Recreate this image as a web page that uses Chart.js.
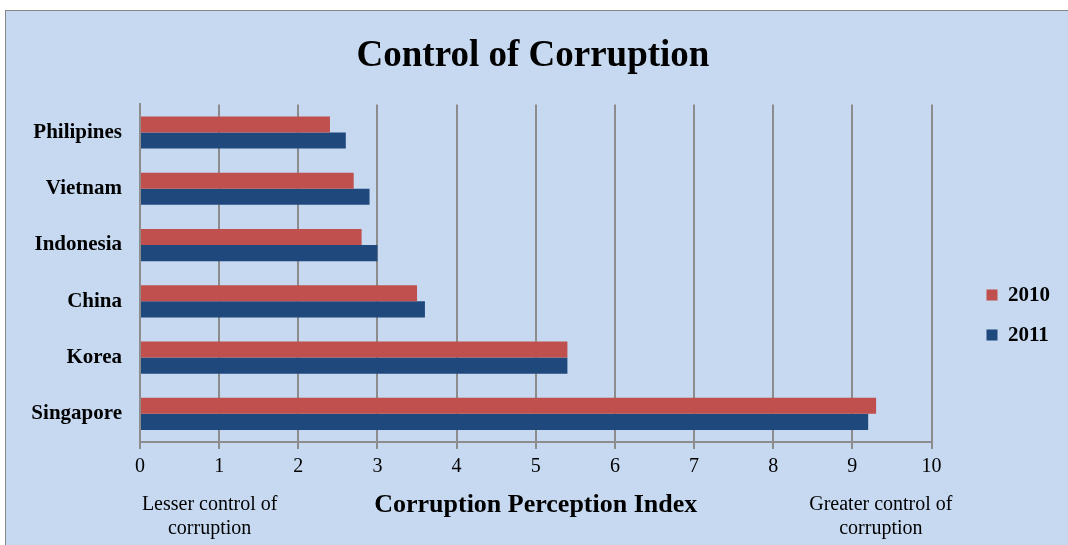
<!DOCTYPE html>
<html>
<head>
<meta charset="utf-8">
<script src="https://cdn.jsdelivr.net/npm/chart.js@4/dist/chart.umd.min.js"></script>
<style>
  body { margin: 0; background: #fff; }
  #frame {
    position: absolute; left: 5px; top: 10px;
    width: 1063px; height: 535px;
    border-left: 1px solid #868686; border-top: 1px solid #868686;
    background: #c6d9f1;
  }
  #frame canvas { display: block; }
</style>
</head>
<body>
<div id="frame"><canvas id="cpiChart" width="1062" height="534"></canvas></div>
<script>
// Control of Corruption - CPI scores
const countries = ["Philipines", "Vietnam", "Indonesia", "China", "Korea", "Singapore"];
const cpi2010 = [2.4, 2.7, 2.8, 3.5, 5.4, 9.3];
const cpi2011 = [2.6, 2.9, 3.0, 3.6, 5.4, 9.2];
const xMin = 0;
const xMax = 10;

const serif = "'Liberation Serif', 'Times New Roman', serif";
const gridGray = "#8c8c8c";

// notes under the axis ends
const axisNotes = {
  id: "axisNotes",
  afterDraw(chart) {
    const x = chart.scales.x;
    const ctx = chart.ctx;
    const y0 = chart.chartArea.bottom + 63;
    ctx.save();
    ctx.font = "20px " + serif;
    ctx.fillStyle = "#000";
    ctx.textAlign = "center";
    ctx.textBaseline = "middle";
    const lx = x.getPixelForValue(0.88);
    const rx = x.getPixelForValue(9.36);
    ctx.fillText("Lesser control of", lx, y0);
    ctx.fillText("corruption", lx, y0 + 24);
    ctx.fillText("Greater control of", rx, y0);
    ctx.fillText("corruption", rx, y0 + 24);
    ctx.restore();
  },
};

const ctx = document.getElementById("cpiChart").getContext("2d");
new Chart(ctx, {
  type: "bar",
  data: {
    labels: countries,
    datasets: [
      {
        label: "2010",
        data: cpi2010,
        backgroundColor: "#c0504d",
      },
      {
        label: "2011",
        data: cpi2011,
        backgroundColor: "#1f497d",
      },
    ],
  },
  options: {
    indexAxis: "y",
    responsive: false,
    animation: false,
    layout: { padding: { left: 0, right: 8, top: 0, bottom: 0 } },
    datasets: {
      bar: { barPercentage: 1, categoryPercentage: 0.571 },
    },
    scales: {
      x: {
        min: xMin,
        max: xMax,
        ticks: {
          stepSize: 1,
          padding: 6,
          color: "#000",
          font: { family: serif, size: 20 },
        },
        grid: { color: gridGray, lineWidth: 2, tickLength: 7 },
        border: { color: gridGray, width: 2 },
        title: {
          display: true,
          text: "Corruption Perception Index",
          color: "#000",
          font: { family: serif, size: 26, weight: "bold" },
          padding: { top: 8, bottom: 24 },
        },
        afterFit(scale) {
          scale.height = 103;
        },
      },
      y: {
        ticks: {
          padding: 18,
          color: "#000",
          font: { family: serif, size: 21, weight: "bold" },
        },
        grid: { display: false, drawTicks: false },
        border: { color: gridGray, width: 2 },
        afterFit(scale) {
          scale.width = 134;
        },
      },
      gap: {
        type: "category",
        axis: "y",
        position: "right",
        ticks: { display: false },
        grid: { display: false, drawTicks: false },
        border: { display: false },
        afterFit(scale) {
          scale.width = 36;
        },
      },
    },
    plugins: {
      title: {
        display: true,
        text: "Control of Corruption",
        color: "#000",
        font: { family: serif, size: 37, weight: "bold" },
        padding: { top: 23, bottom: 26 },
      },
      legend: {
        position: "right",
        title: {
          display: true,
          text: " ",
          font: { size: 1 },
          padding: { top: 0, bottom: 73 },
        },
        labels: {
          boxWidth: 11,
          boxHeight: 11,
          padding: 19,
          color: "#000",
          font: { family: serif, size: 21, weight: "bold" },
        },
      },
      tooltip: { enabled: true },
    },
  },
  plugins: [axisNotes],
});
</script>
</body>
</html>
